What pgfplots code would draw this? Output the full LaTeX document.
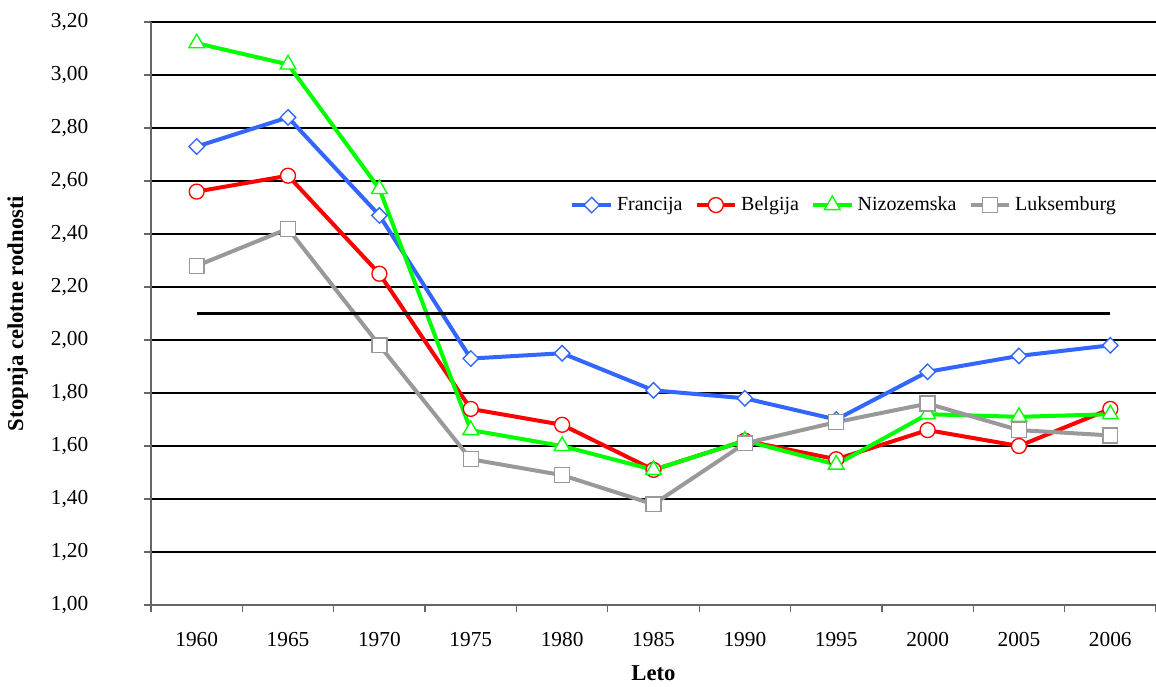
\documentclass[border=0pt]{standalone}
\usepackage{fontspec}
\setmainfont{Liberation Serif}
\usepackage{pgfplots}
\pgfplotsset{compat=1.18}
\usetikzlibrary{calc}
\definecolor{fr}{HTML}{3366FF}
\definecolor{be}{HTML}{FF0000}
\definecolor{ni}{HTML}{00FF00}
\definecolor{lu}{HTML}{999999}
\begin{document}
\fontsize{16}{19}\selectfont
\begin{tikzpicture}
\begin{axis}[name=ax,
  scale only axis, width=753.75pt, height=437.25pt,
  xmin=-0.5, xmax=10.5, ymin=1, ymax=3.2,
  axis lines=left, axis line style={-, draw=gray!80!black, line width=1.2pt},
  xtick={0,...,10},
  xticklabels={1960,1965,1970,1975,1980,1985,1990,1995,2000,2005,2006},
  minor xtick={-0.5,0.5,...,10.5},
  x tick style={draw=none},
  minor x tick style={draw=gray!80!black, line width=1pt},
  minor tick length=5pt,
  ytick={1,1.2,...,3.21},
  y tick style={draw=gray!80!black, line width=1pt},
  major tick length=5pt,
  tick align=outside,
  ymajorgrids, grid style={black, line width=0.8pt},
  yticklabel={\pgfmathprintnumber[fixed, fixed zerofill, precision=2, use comma]{\tick}},
  /pgf/number format/assume math mode=true,
  yticklabel style={font=\fontsize{16}{19}\selectfont, anchor=east, xshift=-36.5pt},
  xticklabel style={font=\fontsize{16}{19}\selectfont, anchor=center, yshift=-21pt},
  xlabel={\textbf{Leto}}, ylabel={\textbf{Stopnja celotne rodnosti}},
  label style={font=\fontsize{17}{20}\selectfont},
  xlabel style={at={(rel axis cs:0.5,0)}, anchor=center, yshift=-51.5pt},
  ylabel style={at={(rel axis cs:0,0.5)}, anchor=center, xshift=0pt, yshift=100pt},
  legend style={at={(rel axis cs:0.417,0.686)}, anchor=west, draw=none, fill=none,
    legend columns=-1, font=\fontsize{15}{18}\selectfont, inner sep=0pt,
    /tikz/every odd column/.append style={column sep=1pt},
    /tikz/every even column/.append style={column sep=7pt}},
  legend image code/.code={\draw[#1] (0pt,0pt) -- (29pt,0pt) plot coordinates {(14.5pt,0pt)};},
  clip=false,
]
\addplot[fr, line width=3pt, mark=square*, mark size=4.1pt,
  mark options={rotate=45, fill=white, line width=1pt, solid}]
  coordinates {(0,2.73)(1,2.84)(2,2.47)(3,1.93)(4,1.95)(5,1.81)(6,1.78)(7,1.70)(8,1.88)(9,1.94)(10,1.98)};
\addlegendentry{Francija}
\addplot[be, line width=3pt, mark=*, mark size=5.6pt,
  mark options={fill=white, line width=1pt, solid}]
  coordinates {(0,2.56)(1,2.62)(2,2.25)(3,1.74)(4,1.68)(5,1.51)(6,1.62)(7,1.55)(8,1.66)(9,1.60)(10,1.74)};
\addlegendentry{Belgija}
\addplot[ni, line width=3pt, mark=triangle*, mark size=6.8pt,
  mark options={fill=white, line width=1pt, solid}]
  coordinates {(0,3.12)(1,3.04)(2,2.57)(3,1.66)(4,1.60)(5,1.51)(6,1.62)(7,1.53)(8,1.72)(9,1.71)(10,1.72)};
\addlegendentry{Nizozemska}
\addplot[lu, line width=3pt, mark=square*, mark size=5.6pt,
  mark options={fill=white, line width=1pt, solid}]
  coordinates {(0,2.28)(1,2.42)(2,1.98)(3,1.55)(4,1.49)(5,1.38)(6,1.61)(7,1.69)(8,1.76)(9,1.66)(10,1.64)};
\addlegendentry{Luksemburg}
\addplot[black, line width=2.8pt, forget plot] coordinates {(0,2.1)(10,2.1)};
\end{axis}
\pgfresetboundingbox
\path[use as bounding box] ($(ax.south west)+(-113.25pt,-60.75pt)$) rectangle ($(ax.north east)+(0pt,16.5pt)$);
\end{tikzpicture}
\end{document}
